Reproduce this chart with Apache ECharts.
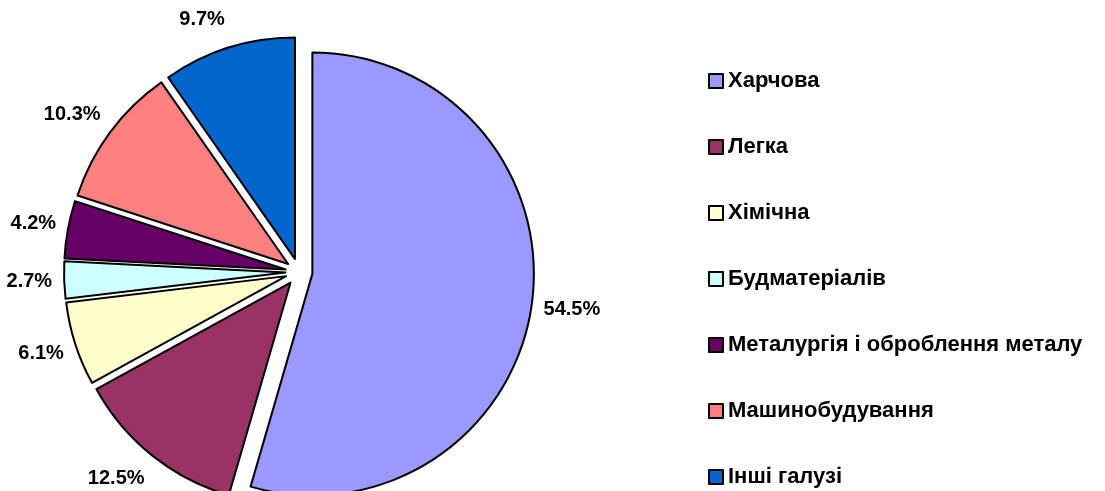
<!DOCTYPE html>
<html>
<head>
<meta charset="utf-8">
<script src="https://cdn.jsdelivr.net/npm/echarts@6/dist/echarts.min.js"></script>
<style>
  html, body { margin: 0; padding: 0; background: #fff; }
  #pie { width: 1105px; height: 491px; }
</style>
</head>
<body>
<div id="pie"></div>
<script>
// 数据
const names = ['Харчова', 'Легка', 'Хімічна', 'Будматеріалів', 'Металургія і оброблення металу', 'Машинобудування', 'Інші галузі'];
const shares = [54.5, 12.5, 6.1, 2.7, 4.2, 10.3, 9.7];
const colors = ['#9999FF', '#993366', '#FFFFCC', '#CCFFFF', '#660066', '#FF8080', '#0066CC'];

const font = '"Liberation Sans", Arial, sans-serif';
const tablePie = echarts.init(document.querySelector('#pie'));

// 所有扇区都分离出来
let pieData = names.map((name, i) => ({
    name: name,
    value: shares[i],
    selected: true
}));

// 标签沿半径方向再往外推一点(上下方向)
let pushOut = (params) => {
    let pts = params.labelLinePoints;
    if (!pts) return {};
    let vx = pts[1][0] - pts[0][0];
    let vy = pts[1][1] - pts[0][1];
    let len = Math.sqrt(vx * vx + vy * vy) || 1;
    return { dy: vy / len * 18 };
};

tablePie.setOption({
    color: colors,
    legend: {
        data: names,
        orient: 'vertical',
        left: 708,
        top: 70,
        padding: 0,
        height: 470,
        itemWidth: 14,
        itemHeight: 14,
        itemGap: 44,
        icon: 'rect',
        selectedMode: false,
        itemStyle: { borderColor: '#000', borderWidth: 2 },
        textStyle: {
            fontSize: 22,
            fontWeight: 'bold',
            color: '#000',
            fontFamily: font
        }
    },
    series: [
        {
            type: 'pie',
            center: [299, 272],
            radius: 221.5,
            startAngle: 90,
            selectedMode: 'multiple',
            selectedOffset: 13.5,
            avoidLabelOverlap: false,
            animation: false,
            itemStyle: {
                borderColor: '#000',
                borderWidth: 2
            },
            label: {
                position: 'outside',
                formatter: p => p.value.toFixed(1) + '%',
                fontSize: 20,
                fontWeight: 'bold',
                color: '#000',
                fontFamily: font,
                distanceToLabelLine: 0
            },
            labelLine: {
                show: false,
                length: 12,
                length2: 0
            },
            labelLayout: pushOut,
            emphasis: { scale: false },
            data: pieData
        }
    ]
});
</script>
</body>
</html>
